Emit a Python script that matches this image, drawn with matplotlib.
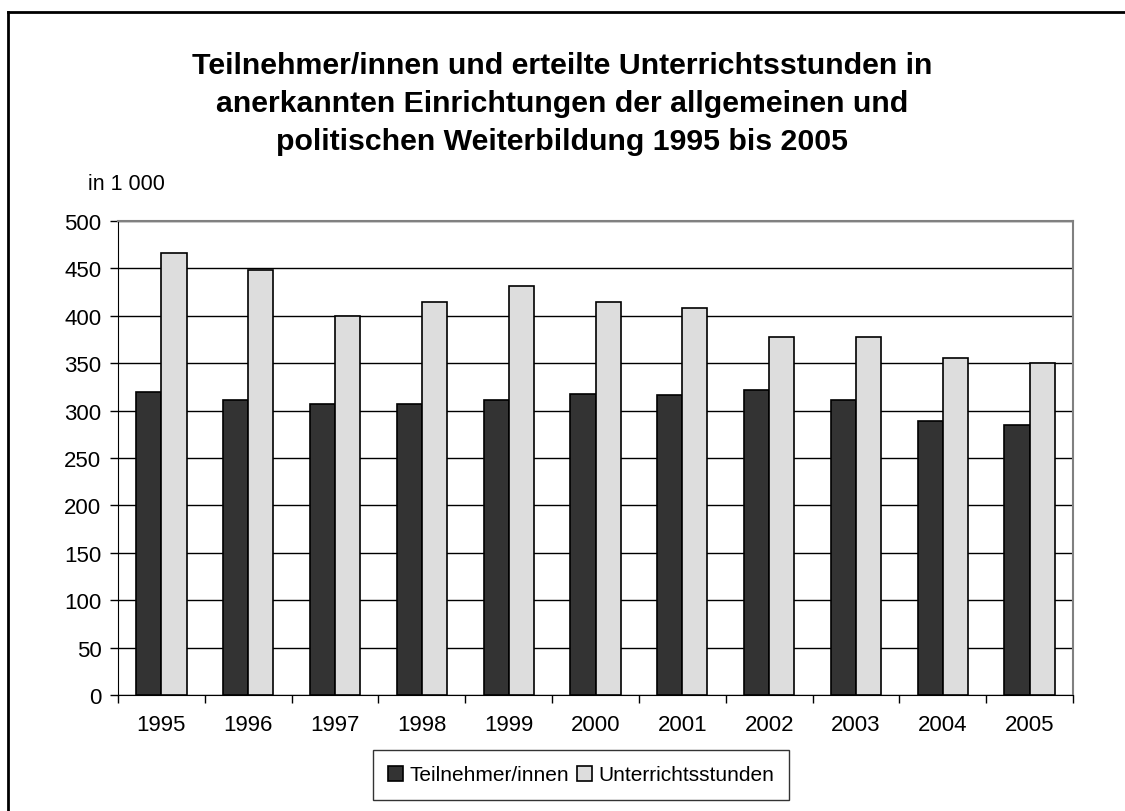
import matplotlib
matplotlib.use("Agg")
import matplotlib.pyplot as plt
from matplotlib.lines import Line2D
import numpy as np

plt.rcParams['font.family'] = ['Liberation Sans', 'DejaVu Sans']

years = ["1995", "1996", "1997", "1998", "1999", "2000", "2001", "2002", "2003", "2004", "2005"]
teilnehmer = [320, 311, 307, 307, 311, 318, 316, 322, 311, 289, 285]
stunden = [466, 448, 400, 415, 431, 415, 408, 378, 378, 355, 350]

W, H = 1125, 812
fig = plt.figure(figsize=(W / 100, H / 100), dpi=100)
ax = fig.add_axes([118 / W, 1 - 696 / H, (1073 - 118) / W, (696 - 222) / H])

x = np.arange(len(years))
bw = 0.29
ax.bar(x - bw / 2, teilnehmer, bw, color="#333333", edgecolor="black", linewidth=1.2,
       label="Teilnehmer/innen", zorder=3)
ax.bar(x + bw / 2, stunden, bw, color="#dddddd", edgecolor="black", linewidth=1.2,
       label="Unterrichtsstunden", zorder=3)

ax.set_ylim(0, 500)
ax.set_xlim(-0.5, len(years) - 0.5)
ax.set_yticks(range(0, 501, 50))
ax.yaxis.grid(True, color="black", linewidth=1, zorder=0)
ax.set_xticks(x)
ax.set_xticklabels(years)
ax.set_xticks(np.arange(-0.5, len(years), 1), minor=True)
ax.tick_params(axis="x", which="major", length=0, pad=14, labelsize=16)
ax.tick_params(axis="x", which="minor", length=6, width=1, direction="out")
ax.tick_params(axis="y", length=6, width=1, direction="out", labelsize=16, pad=6)

for s in ["top", "right"]:
    ax.spines[s].set_color("#808080")
    ax.spines[s].set_linewidth(1.5)
ax.spines["left"].set_color("black")
ax.spines["bottom"].set_color("black")

title = ("Teilnehmer/innen und erteilte Unterrichtsstunden in\n"
         "anerkannten Einrichtungen der allgemeinen und\n"
         "politischen Weiterbildung 1995 bis 2005")
fig.text(0.5, 1 - 104 / H, title, ha="center", va="center", fontsize=21.8,
         fontweight="bold", linespacing=1.47)
fig.text(88 / W, 1 - 185 / H, "in 1 000", ha="left", va="center", fontsize=15.5)

leg = ax.legend(loc="center", bbox_to_anchor=(581 / W, 1 - 776 / H),
                bbox_transform=fig.transFigure, ncol=2, frameon=True, fancybox=False,
                fontsize=15, handlelength=0.7, handleheight=0.7, handletextpad=0.3,
                columnspacing=0.4, borderpad=0.75, borderaxespad=0)
leg.get_frame().set_edgecolor("black")
leg.get_frame().set_linewidth(1)

# figure frame (left and top edges visible)
fig.add_artist(Line2D([8 / W, 8 / W], [0, 1 - 13 / H], transform=fig.transFigure,
                      color="black", linewidth=2))
fig.add_artist(Line2D([8 / W, 1], [1 - 13 / H, 1 - 13 / H], transform=fig.transFigure,
                      color="black", linewidth=2))

fig.savefig("out.png", dpi=100)
